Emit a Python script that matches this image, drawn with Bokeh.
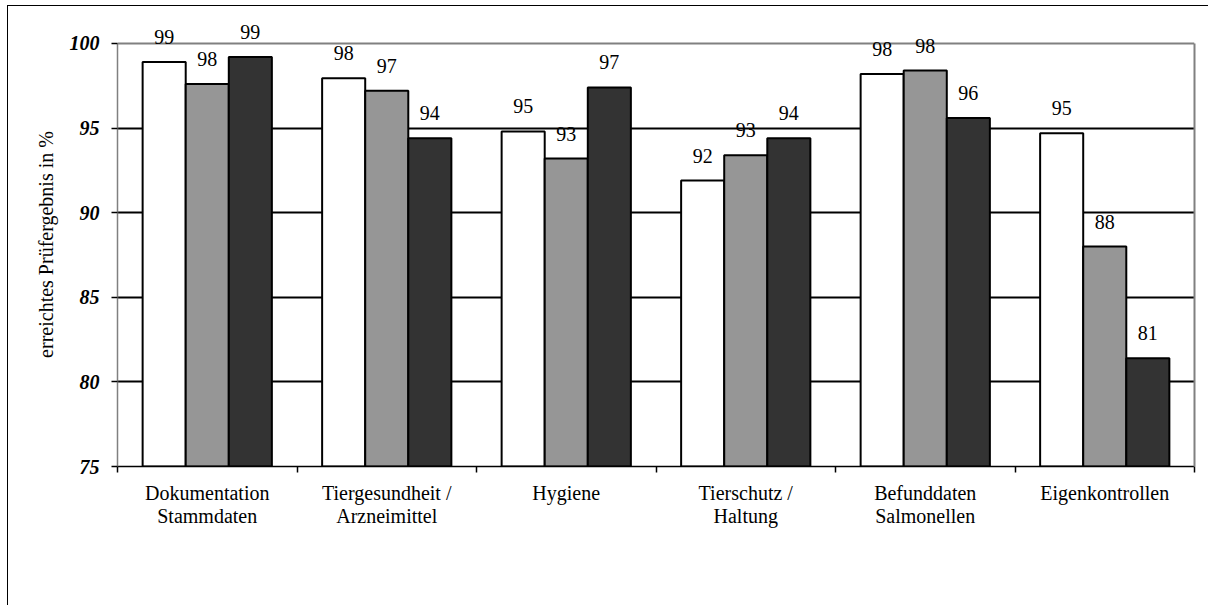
from bokeh.plotting import figure
from bokeh.models import (ColumnDataSource, FixedTicker, Label, Legend, LegendItem, Range1d,
                          Grid, LinearAxis)
from bokeh.embed import file_html
from bokeh.resources import INLINE

cat_line1 = ["Dokumentation", "Tiergesundheit /", "Hygiene", "Tierschutz /", "Befunddaten", "Eigenkontrollen"]
cat_line2 = ["Stammdaten", "Arzneimittel", "", "Haltung", "Salmonellen", ""]
series_names = ["Niersachsen", "Deutschland", "Niederlande"]
niersachsen = [98.9, 97.95, 94.8, 91.9, 98.2, 94.7]
deutschland = [97.6, 97.2, 93.2, 93.4, 98.4, 88.0]
niederlande = [99.2, 94.4, 97.4, 94.4, 95.6, 81.4]
y_ticks = [75, 80, 85, 90, 95, 100]

colors = ["#ffffff", "#969696", "#333333"]
offsets = [-0.24, 0.0, 0.24]
FONT = "Liberation Serif"
Y_MIN, Y_MAX, Y_TOP = 75, 100, 101.24   # headroom above 100 so the value labels are not clipped

n = len(cat_line1)
centers = [i + 0.5 for i in range(n)]
bounds = [i for i in range(n + 1)]

p = figure(frame_width=1077, frame_height=444, output_backend="svg", toolbar_location=None,
           x_range=Range1d(0, n), y_range=Range1d(Y_MIN, Y_TOP),
           min_border_left=109, min_border_right=14, min_border_top=16, min_border_bottom=138)
p.styles = {"margin-left": "7px", "margin-top": "5px",
            "border-top": "1.5px solid black", "border-left": "1.5px solid black"}

p.outline_line_color = None
p.background_fill_color = "white"
p.border_fill_color = "white"

p.xgrid.visible = False
p.ygrid.ticker = FixedTicker(ticks=[80, 85, 90, 95])
p.ygrid.grid_line_color = "black"
p.ygrid.grid_line_width = 2
top_grid = Grid(dimension=1, ticker=FixedTicker(ticks=[Y_MAX]),
                grid_line_color="#808080", grid_line_width=2)
p.add_layout(top_grid)

renderers = []
for name, vals, col, off in zip(series_names, [niersachsen, deutschland, niederlande], colors, offsets):
    src = ColumnDataSource(dict(x=[c + off for c in centers], y=vals))
    r = p.vbar(x="x", top="y", bottom=Y_MIN, width=0.24, source=src,
               fill_color=col, line_color="black", line_width=2)
    renderers.append(r)
    for c, v in zip(centers, vals):
        p.add_layout(Label(x=c + off, y=v, text=f"{v:.0f}", text_align="center",
                           text_baseline="middle", y_offset=25, text_font=FONT,
                           text_font_size="20px", text_color="black"))

# x axis, first line of category labels, ticks at category boundaries
xa = p.xaxis[0]
xa.ticker = FixedTicker(ticks=centers, minor_ticks=bounds)
xa.major_label_overrides = {c: t for c, t in zip(centers, cat_line1)}
xa.major_tick_out = 0
xa.major_tick_in = 0
xa.minor_tick_out = 6
xa.minor_tick_in = 0
xa.minor_tick_line_color = "black"
xa.minor_tick_line_width = 1.5
xa.axis_line_color = "black"
xa.axis_line_width = 1.5
xa.major_label_text_font = FONT
xa.major_label_text_font_size = "20px"
xa.major_label_text_color = "black"
xa.major_label_standoff = 9

# second line of category labels
xa2 = LinearAxis(ticker=FixedTicker(ticks=centers, minor_ticks=[]),
                 major_label_overrides={c: t for c, t in zip(centers, cat_line2)},
                 axis_line_color=None, major_tick_out=0, major_tick_in=0,
                 minor_tick_out=0, minor_tick_in=0, major_label_standoff=-2,
                 major_label_text_font=FONT, major_label_text_font_size="20px",
                 major_label_text_color="black")
p.add_layout(xa2, "below")

# y axis
ya = p.yaxis[0]
ya.ticker = FixedTicker(ticks=y_ticks)
ya.bounds = (Y_MIN, Y_MAX)
ya.major_tick_out = 6
ya.major_tick_in = 0
ya.minor_tick_out = 0
ya.minor_tick_in = 0
ya.major_tick_line_color = "black"
ya.major_tick_line_width = 1.5
ya.axis_line_color = "#808080"
ya.axis_line_width = 1.5
ya.major_label_text_font = FONT
ya.major_label_text_font_size = "20px"
ya.major_label_text_font_style = "bold italic"
ya.major_label_text_color = "black"
ya.major_label_standoff = 12
ya.axis_label = "erreichtes Prüfergebnis in %"
ya.axis_label_text_font = FONT
ya.axis_label_text_font_size = "20px"
ya.axis_label_text_font_style = "normal"
ya.axis_label_text_color = "black"
ya.axis_label_standoff = 10

# right border of the plot area
ra = LinearAxis(bounds=(Y_MIN, Y_MAX), ticker=FixedTicker(ticks=[]), axis_line_color="#808080",
                axis_line_width=2, major_tick_out=0, major_tick_in=0, minor_tick_out=0,
                minor_tick_in=0, major_label_standoff=0)
p.add_layout(ra, "right")

legend = Legend(items=[LegendItem(label=s, renderers=[r]) for s, r in zip(series_names, renderers)],
                orientation="horizontal", location=(334, 10))
legend.label_text_font = FONT
legend.label_text_font_size = "20px"
legend.label_text_color = "black"
legend.glyph_width = 14
legend.glyph_height = 14
legend.spacing = 12
legend.label_standoff = 3
legend.padding = 0
legend.margin = 0
legend.border_line_color = None
legend.background_fill_alpha = 0
p.add_layout(legend, "below")

open("out.html", "w").write(file_html(p, INLINE))
